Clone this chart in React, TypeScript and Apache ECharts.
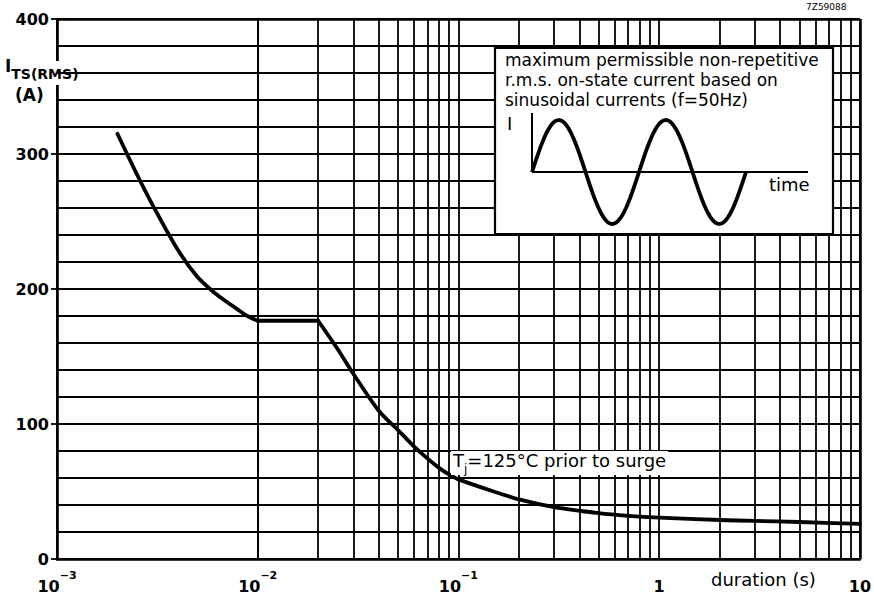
import React, { useEffect, useRef } from 'react';
import * as echarts from 'echarts';

// surge current curve (duration in s, current in A)
const curveDuration = [0.002, 0.0025, 0.003, 0.004, 0.005, 0.006, 0.007, 0.008, 0.009, 0.01, 0.02, 0.025, 0.03, 0.04, 0.05, 0.06, 0.07, 0.08, 0.09, 0.1, 0.15, 0.2, 0.3, 0.5, 0.7, 1, 2, 3, 5, 10];
const curveCurrent = [315, 285, 262, 229, 209, 198, 190.5, 184.5, 179.5, 176.5, 176.5, 155.5, 137, 110, 95.5, 83.5, 74.5, 67.5, 62.5, 59, 50, 44.2, 38.5, 34, 32, 30.6, 28.9, 28.2, 27.4, 26];
// indices where the curve has sharp corners (start/end of the flat part)
const kneeStart = 9;
const kneeEnd = 10;

const xDecades = [0.001, 0.01, 0.1, 1, 10];
const xExponents = [-3, -2, -1, 0, 1];
const xMinorMultipliers = [2, 3, 4, 5, 6, 7, 8, 9];
const yMin = 0;
const yMax = 400;
const yGridStep = 20;
const yLabelStep = 100;

const FONT = 'DejaVu Sans';
const INK = '#000';

export default function App() {
  const ref = useRef<HTMLDivElement>(null);
  useEffect(() => {
    if (!ref.current) return;
    const chart = echarts.init(ref.current, null, { renderer: 'svg' });
    const minorLines: number[] = [];
    xDecades.slice(0, -1).forEach((d) => xMinorMultipliers.forEach((m) => minorLines.push(+(d * m).toPrecision(3))));
    const labelFor = (v: number) => {
      const e = Math.round(Math.log10(v));
      const idx = xExponents.indexOf(e);
      if (idx < 0) return '';
      if (e === 0) return '{b|1}';
      if (e === 1) return '{b|10}';
      return '{b|10}{s|\u2212' + -e + '}';
    };
    const pts = curveDuration.map((d, i) => [d, curveCurrent[i]]);
    const seg1 = pts.slice(0, kneeStart + 1);
    const seg2 = pts.slice(kneeStart, kneeEnd + 1);
    const seg3 = pts.slice(kneeEnd);
    const sine: number[][] = [];
    const x0 = 532, y0 = 172, per = 107, amp = 52;
    for (let i = 0; i <= 214; i += 2) sine.push([x0 + i, y0 - amp * Math.sin((2 * Math.PI * i) / per)]);

    const curveSeries = (data: number[][], smooth: number) => ({
      type: 'line',
      data,
      showSymbol: false,
      symbol: 'none',
      smooth,
      lineStyle: { color: INK, width: 3.8, cap: 'round', join: 'round' },
      z: 5,
    });

    chart.setOption({
      animation: false,
      backgroundColor: '#fff',
      grid: { left: 57, right: 8, top: 19, bottom: 35 },
      xAxis: {
        type: 'log',
        logBase: 10,
        min: xDecades[0],
        max: xDecades[xDecades.length - 1],
        axisLine: { show: true, onZero: false, lineStyle: { color: INK, width: 2.6 } },
        axisTick: { show: false },
        splitLine: { show: true, lineStyle: { color: INK, width: 1.8 } },
        axisLabel: {
          formatter: labelFor,
          margin: 11,
          rich: {
            b: { fontSize: 16, fontWeight: 'bold', fontFamily: FONT, color: INK, lineHeight: 24, verticalAlign: 'bottom' },
            s: { fontSize: 11, fontWeight: 'bold', fontFamily: FONT, color: INK, lineHeight: 24, verticalAlign: 'top' },
          },
        },
      },
      yAxis: [
        {
          type: 'value',
          min: yMin,
          max: yMax,
          interval: yGridStep,
          axisLine: { show: true, lineStyle: { color: INK, width: 2.6 } },
          axisTick: { show: false },
          axisLabel: { show: false },
          splitLine: { show: true, lineStyle: { color: INK, width: 1.8 } },
        },
        {
          type: 'value',
          min: yMin,
          max: yMax,
          interval: yLabelStep,
          position: 'left',
          axisLine: { show: false },
          axisTick: { show: true, length: 6, lineStyle: { color: INK, width: 1.8 } },
          axisLabel: { fontSize: 16, fontWeight: 'bold', fontFamily: FONT, color: INK, margin: 8 },
          splitLine: { show: false },
        },
      ],
      series: [
        {
          type: 'line',
          data: [],
          silent: true,
          markLine: {
            silent: true,
            symbol: 'none',
            label: { show: false },
            lineStyle: { color: INK, width: 1.8, type: 'solid' },
            data: [
              ...minorLines.map((v) => ({ xAxis: v })),
              { xAxis: xDecades[xDecades.length - 1], lineStyle: { width: 2.6 } },
              { yAxis: yMax, lineStyle: { width: 2.6 } },
            ],
          },
          z: 1,
        },
        curveSeries(seg1, 0.3),
        curveSeries(seg2, 0),
        curveSeries(seg3, 0.3),
      ],
      graphic: [
        { type: 'rect', z: 100, shape: { x: 54, y: 61, width: 7, height: 24 }, style: { fill: '#fff' } },
        { type: 'line', z: 101, shape: { x1: 57, y1: 73, x2: 82, y2: 73 }, style: { stroke: INK, lineWidth: 1.8 } },
        {
          type: 'text', z: 101, left: 5, top: 57,
          style: {
            text: '{i|I}{s|TS(RMS)}',
            rich: {
              i: { fontSize: 17, fontWeight: 'bold', fontFamily: FONT, fill: INK, lineHeight: 24, verticalAlign: 'top' },
              s: { fontSize: 14, fontWeight: 'bold', fontFamily: FONT, fill: INK, lineHeight: 24, verticalAlign: 'bottom' },
            },
          },
        },
        { type: 'text', z: 101, left: 15, top: 86, style: { text: '(A)', fontSize: 17, fontWeight: 'bold', fontFamily: FONT, fill: INK } },
        { type: 'text', z: 101, left: 806, top: 2, style: { text: '7Z59088', fontSize: 9, fontFamily: FONT, fill: INK } },
        { type: 'text', z: 101, left: 711, top: 570, style: { text: 'duration (s)', fontSize: 18, fontFamily: FONT, fill: INK } },
        {
          type: 'text', z: 101, left: 451, top: 451,
          style: {
            text: '{t|T}{j|j}{t|=125\u00B0C prior to surge}',
            backgroundColor: '#fff',
            padding: [0, 2, 0, 2],
            rich: {
              t: { fontSize: 18, fontFamily: FONT, fill: INK, lineHeight: 24, verticalAlign: 'top', backgroundColor: '#fff' },
              j: { fontSize: 12, fontFamily: FONT, fill: INK, lineHeight: 24, verticalAlign: 'bottom', backgroundColor: '#fff' },
            },
          },
        },
        { type: 'rect', z: 100, shape: { x: 495, y: 48, width: 338, height: 186 }, style: { fill: '#fff', stroke: INK, lineWidth: 2.2 } },
        {
          type: 'text', z: 101, left: 505, top: 50,
          style: {
            text: 'maximum permissible non-repetitive\nr.m.s. on-state current based on\nsinusoidal currents (f=50Hz)',
            fontSize: 17, fontFamily: FONT, fill: INK, lineHeight: 20,
          },
        },
        { type: 'line', z: 101, shape: { x1: 532, y1: 113, x2: 532, y2: 172 }, style: { stroke: INK, lineWidth: 2 } },
        { type: 'line', z: 101, shape: { x1: 532, y1: 172, x2: 808, y2: 172 }, style: { stroke: INK, lineWidth: 2 } },
        { type: 'polyline', z: 102, shape: { points: sine }, style: { stroke: INK, lineWidth: 3.8, fill: 'none' } },
        { type: 'text', z: 101, left: 507, top: 114, style: { text: 'I', fontSize: 18, fontFamily: FONT, fill: INK } },
        { type: 'text', z: 101, left: 769, top: 175, style: { text: 'time', fontSize: 18, fontFamily: FONT, fill: INK } },
      ],
    });
    return () => chart.dispose();
  }, []);
  return <div ref={ref} style={{ position: 'fixed', left: 0, top: 0, width: 874, height: 594 }} />;
}
